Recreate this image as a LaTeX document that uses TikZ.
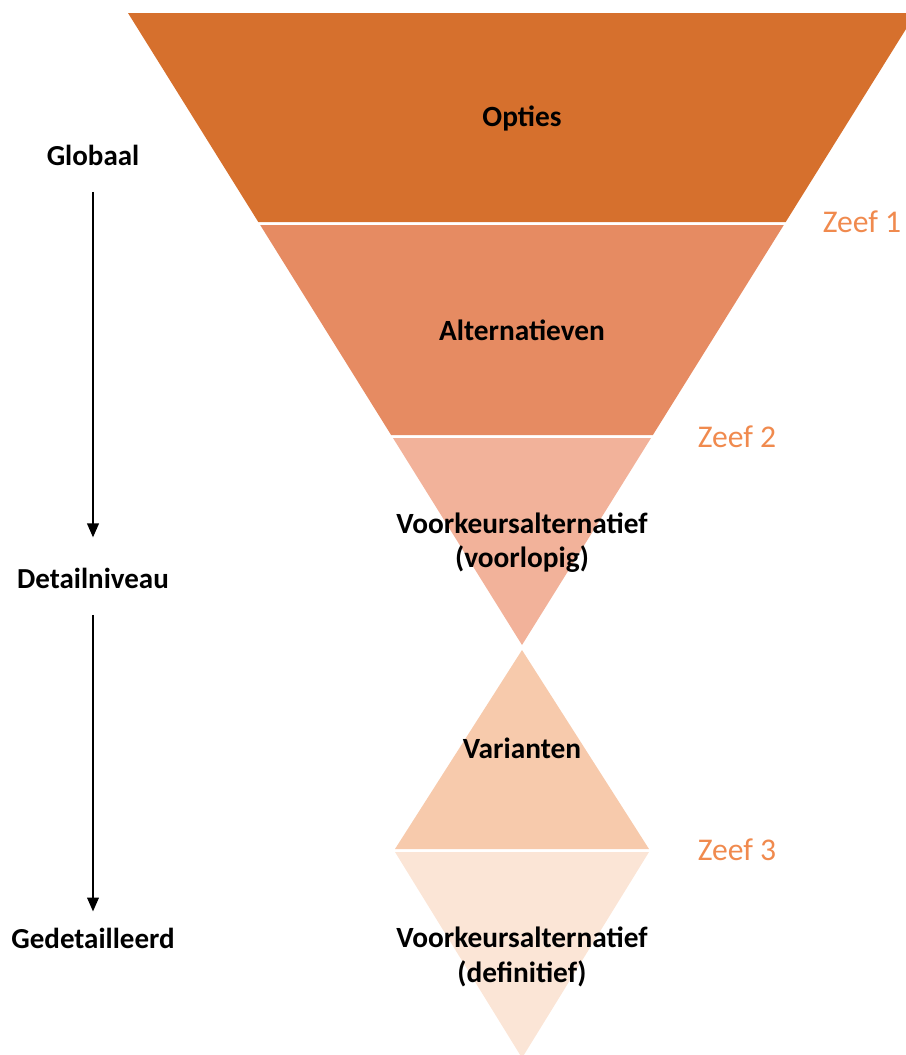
\documentclass[tikz,border=0pt]{standalone}
\usepackage{fontspec}
\setmainfont{Carlito}
\usepackage{xcolor}
\usepackage{tikz}
\usetikzlibrary{arrows.meta, positioning}
\definecolor{optiesfill}{RGB}{214,112,45}
\definecolor{altfill}{RGB}{230,139,98}
\definecolor{voorlfill}{RGB}{242,178,154}
\definecolor{varfill}{RGB}{247,202,172}
\definecolor{deffill}{RGB}{251,229,214}
\definecolor{zeeforange}{RGB}{240,138,78}
\tikzset{
  layer/.style={draw=none},
  lbl/.style={font=\fontsize{16.7}{19.5}\selectfont\bfseries, align=center, inner sep=0pt},
  side/.style={font=\fontsize{16.5}{19}\selectfont\bfseries, inner sep=0pt},
  zeef/.style={font=\fontsize{18}{21}\selectfont, text=zeeforange, inner sep=0pt},
  arr/.style={-{Triangle[length=8pt,width=6.5pt]}, line width=1.4pt},
}
\begin{document}
\begin{tikzpicture}[x=0.02cm, y=-0.02cm]
  \useasboundingbox (0,0) rectangle (906,1055);
  \clip (0,0) rectangle (906,1055);

  %% === Funnel layers ===
  \fill[layer, optiesfill] (128,13) -- (916,13) -- (785.7,222) -- (258.3,222) -- cycle;
  \fill[layer, altfill]    (260.2,225) -- (783.8,225) -- (652.9,435) -- (391.1,435) -- cycle;
  \fill[layer, voorlfill]  (393,438) -- (651,438) -- (522,645) -- cycle;
  \fill[layer, varfill]    (522,650) -- (649,849) -- (395,849) -- cycle;
  \fill[layer, deffill]    (395,852) -- (649,852) -- (522,1058) -- cycle;

  %% === Layer labels ===
  \node[lbl] (opties) at (522,118) {Opties};
  \node[lbl] (alt)    at (522,330) {Alternatieven};
  \node[lbl] (voorl)  at (522,543) {Voorkeursalternatief\\(voorlopig)};
  \node[lbl] (var)    at (522,748) {Varianten};
  \node[lbl] (def)    at (522,957) {Voorkeursalternatief\\(definitief)};

  %% === Sieves ===
  \node[zeef] (zeef1) at (862,222) {Zeef 1};
  \node[zeef] (zeef2) at (737,437) {Zeef 2};
  \node[zeef] (zeef3) at (737,850) {Zeef 3};

  %% === Level of detail (left) ===
  \node[side] (glob)   at (93,155) {Globaal};
  \node[side] (detail) at (93,578) {Detailniveau};
  \node[side] (gedet)  at (93,938) {Gedetailleerd};

  \draw[arr, shorten <=15pt, shorten >=17pt] (glob) -- (detail);
  \draw[arr, shorten <=15pt, shorten >=9pt]  (detail) -- (gedet);
\end{tikzpicture}
\end{document}
